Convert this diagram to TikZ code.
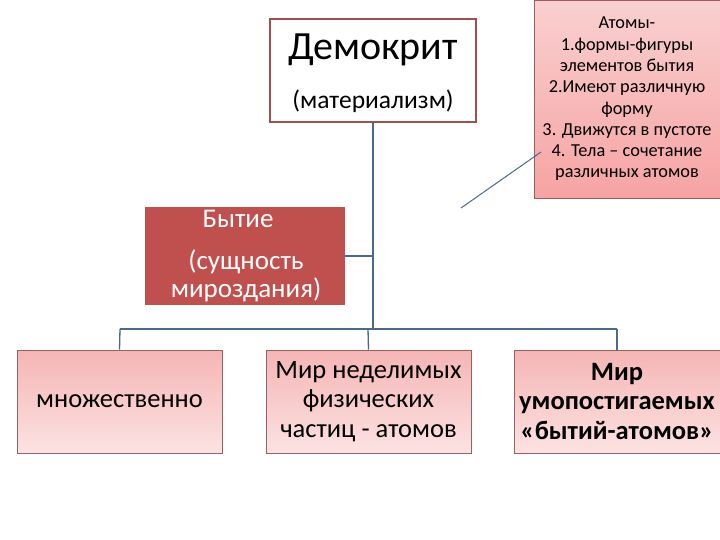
\documentclass[tikz,border=0pt]{standalone}
\usepackage{fontspec}
\setmainfont{Carlito}
\definecolor{lineblue}{HTML}{4A6A8A}
\definecolor{boxred}{HTML}{C0504D}
\definecolor{pinkA}{HTML}{F5B5B5}
\definecolor{pinkB}{HTML}{FCE2E2}
\definecolor{edge}{HTML}{A05050}
\begin{document}
\begin{tikzpicture}[x=1pt,y=-1pt,
  conn/.style={draw=lineblue,line width=1.3pt},
  pinkbox/.style={draw=edge!60!gray,line width=0.6pt,top color=pinkA,bottom color=pinkB,minimum height=103pt,align=center,font=\fontsize{26.5}{29.5}\selectfont,inner sep=0pt}]
\useasboundingbox (0,0) rectangle (720,540);
\fill[white] (0,0) rectangle (720,540);
\node[draw=edge,line width=1.2pt,fill=white,minimum width=206pt,minimum height=103pt,inner sep=0pt] (dem) at (373,70.5) {};
\node[font=\fontsize{40}{46}\selectfont] (demt) at (373,50) {Демокрит};
\node[font=\fontsize{25.5}{30}\selectfont] (demm) at (373,101) {(материализм)};
\node[draw=edge!70!gray,line width=0.8pt,top color=pinkB!60!pinkA,bottom color=pinkA!90!red,minimum width=186pt,minimum height=198pt,inner sep=0pt,align=center,font=\fontsize{18.3}{21.3}\selectfont] (atoms) at (627,99) {Атомы-\\1.формы-фигуры\\элементов бытия\\2.Имеют различную\\форму\\3. Движутся в пустоте\\4. Тела – сочетание\\различных атомов};
\coordinate (pt) at (461,208);
\coordinate (pa) at (541,152);
\draw[lineblue,line width=1pt] (pt) -- (pa);
\node[fill=boxred,minimum width=200pt,minimum height=98pt,inner sep=0pt] (being) at (245,256) {};
\node[text=white,font=\fontsize{27}{30}\selectfont] (b1) at (238,219) {Бытие};
\node[text=white,font=\fontsize{27}{30}\selectfont] (b2) at (246,262) {(сущность};
\node[text=white,font=\fontsize{27}{30}\selectfont] (b3) at (246,290) {мироздания)};
\coordinate (jb) at (373,256);
\coordinate (bar) at (373,329);
\coordinate (bl) at (120,329);
\coordinate (bm) at (368,329);
\coordinate (br) at (617,329);
\node[pinkbox,minimum width=205pt] (left) at (119.5,401.5) {множественно};
\node[pinkbox,minimum width=205pt] (mid) at (368.5,401.5) {Мир неделимых\\физических\\частиц - атомов};
\node[pinkbox,minimum width=206pt,font=\bfseries\fontsize{26.5}{29.5}\selectfont] (right) at (617,401.5) {Мир\\умопостигаемых\\«бытий-атомов»};
\draw[conn] (dem.south) -- (bar);
\draw[conn] (being.east) -- (jb);
\draw[conn] (bl) -- (br);
\draw[conn] (bl) -- (left.north);
\draw[conn] (bm) -- (mid.north);
\draw[conn] (br) -- (right.north);
\end{tikzpicture}
\end{document}
